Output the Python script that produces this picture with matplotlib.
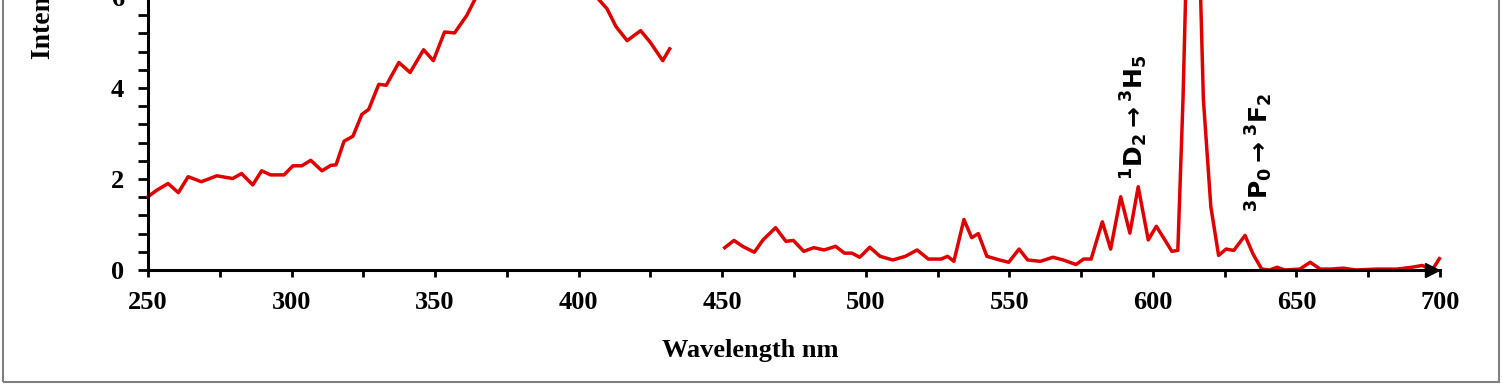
import numpy as np
import matplotlib
matplotlib.use("Agg")
import matplotlib.pyplot as plt
from matplotlib.patches import Rectangle
from matplotlib.ticker import MultipleLocator

# excitation part (250-431 nm)
exc_wl = [250, 253, 257, 260.6, 264, 268.6, 274, 279.5, 282.6, 286.5, 289.6,
          292.7, 297.4, 300.5, 303.6, 306.7, 310.6, 313.7, 315.5, 318.3, 321.4,
          324.5, 326.9, 330.4, 333, 337.4, 341.3, 346, 349.4, 353.3, 356.8,
          361, 364, 370, 378, 386, 395, 402, 406.8, 409.9, 413, 416.9, 421.6,
          425, 429.3, 431.7]
exc_int = [1.61, 1.75, 1.90, 1.70, 2.05, 1.94, 2.07, 2.01, 2.12, 1.87, 2.18,
           2.09, 2.09, 2.29, 2.29, 2.41, 2.18, 2.30, 2.31, 2.83, 2.94,
           3.42, 3.53, 4.08, 4.06, 4.56, 4.34, 4.84, 4.60, 5.23, 5.21,
           5.59, 5.96, 6.6, 7.0, 7.1, 6.9, 6.4, 5.96, 5.74, 5.35, 5.04, 5.26,
           5.00, 4.60, 4.86]

# emission part (451-700 nm)
em_wl = [450.9, 454.1, 457.1, 461.2, 464.2, 468.6, 472.2, 474.8, 478.4, 481.9,
         485.5, 489.5, 492.6, 495.2, 497.9, 501.4, 505, 509.4, 513.8, 517.9,
         521.8, 526.2, 528.5, 530.7, 534.2, 536.9, 539.2, 542.2, 546.6, 549.8,
         553.4, 556.4, 560.8, 565.2, 568.8, 573.2, 575.9, 578.5, 582.4, 585.3,
         588.8, 592, 594.9, 598.4, 601.2, 604.3, 606.6, 608.7, 610.5, 612,
         614, 616, 617.6, 620.2, 622.9, 625.5, 628.2, 632.1, 634.9, 637.9,
         640.6, 643.3, 645.9, 651.2, 654.8, 658.3, 661.9, 666.3, 670.7, 677.8,
         685, 690.2, 693.8, 697.3, 699.8]
em_int = [0.49, 0.65, 0.52, 0.39, 0.66, 0.93, 0.63, 0.65, 0.41, 0.49,
          0.44, 0.52, 0.37, 0.37, 0.28, 0.50, 0.30, 0.22, 0.30, 0.44,
          0.24, 0.24, 0.30, 0.19, 1.11, 0.71, 0.80, 0.30, 0.22, 0.17,
          0.46, 0.22, 0.19, 0.28, 0.22, 0.12, 0.24, 0.24, 1.06, 0.46,
          1.61, 0.81, 1.83, 0.66, 0.96, 0.65, 0.41, 0.43, 3.75, 7.5,
          9.5, 7.5, 3.75, 1.39, 0.32, 0.46, 0.43, 0.76, 0.35, 0.02,
          0.0, 0.06, 0.0, 0.02, 0.17, 0.02, 0.02, 0.04, 0.0, 0.02,
          0.02, 0.06, 0.10, 0.0, 0.25]

x_ticks = [250, 300, 350, 400, 450, 500, 550, 600, 650, 700]
y_ticks = [0, 2, 4, 6, 8]

plt.rcParams['font.family'] = ['Liberation Serif', 'DejaVu Sans']
plt.rcParams['font.weight'] = 'bold'
plt.rcParams['mathtext.fontset'] = 'dejavusans'

fig = plt.figure(figsize=(15.02, 3.84), dpi=100)
ax = fig.add_axes([0.0985, 0.2969, 0.8602, 0.948])

red = '#e00000'
ax.plot(exc_wl, exc_int, color=red, lw=2.5, solid_joinstyle='round', clip_on=False)
ax.plot(em_wl, em_int, color=red, lw=2.5, solid_joinstyle='round', clip_on=False)

ax.set_xlim(250, 700)
ax.set_ylim(0, 8)
ax.set_xticks(x_ticks)
ax.set_yticks(y_ticks)
ax.xaxis.set_minor_locator(MultipleLocator(25))
ax.yaxis.set_minor_locator(MultipleLocator(0.4))

for s in ['top', 'right']:
    ax.spines[s].set_visible(False)
for s in ['left', 'bottom']:
    ax.spines[s].set_linewidth(2.2)

ax.tick_params(axis='x', which='both', direction='out', length=5, width=2,
               labelsize=19, pad=10)
ax.tick_params(axis='y', which='both', direction='out', length=7, width=2,
               labelsize=19, pad=10)

# arrow head at the end of the x axis
ax.plot(0.994, 0, marker='>', ms=10, color='black',
        transform=ax.get_yaxis_transform(), clip_on=False)

ax.set_xlabel('Wavelength nm', fontsize=19, fontweight='bold')
ax.xaxis.set_label_coords(0.466, -0.19)
ax.xaxis.label.set_va('top')

fig.text(43 / 1502, 0.846, 'Intensity (a.u.)', rotation=90, ha='center',
         va='bottom', fontsize=20, fontweight='bold')

ax.text(593.4, 3.36, r'$\mathbf{^{1}D_{2}}\rightarrow\mathbf{^{3}H_{5}}$',
        rotation=90, ha='center', va='center', fontsize=18)
ax.text(637, 2.58, r'$\mathbf{^{3}P_{0}}\rightarrow\mathbf{^{3}F_{2}}$',
        rotation=90, ha='center', va='center', fontsize=18)

# frame around the picture
fig.patches.append(Rectangle((0.0018, 0.006), 0.9965, 1.5, transform=fig.transFigure,
                             fill=False, edgecolor='#808080', lw=1.5))

fig.savefig('out.png', dpi=100)
